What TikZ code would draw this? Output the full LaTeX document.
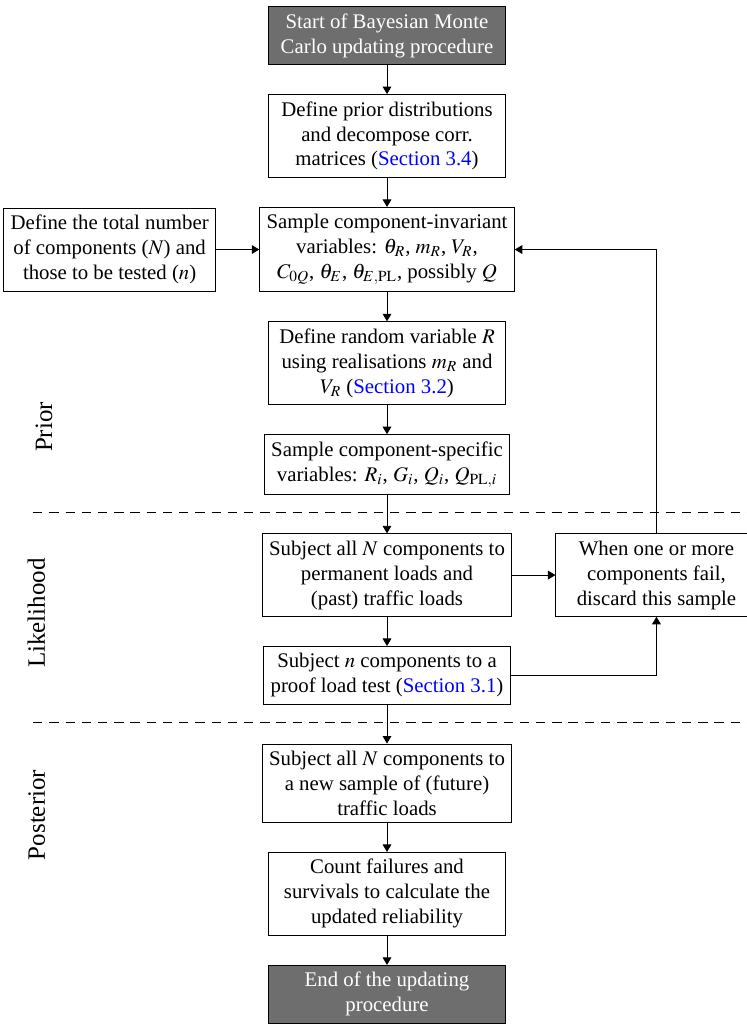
\documentclass[tikz,border=0pt]{standalone}
\usepackage{mathptmx}
\usepackage{fontspec}
\setmainfont{Liberation Serif}
\usetikzlibrary{positioning, arrows.meta, calc}

\begin{document}
\begin{tikzpicture}[
		node distance=0.493cm,
		side/.style={draw, align=center},
		box/.style={side, minimum width=4cm},
		term/.style={box, fill=termgrey, text=white},
		phase/.style={rotate=90, font=\large, anchor=base},
		phaseline/.style={dash pattern=on 4.5pt off 3.3pt},
		flow/.style={-{Triangle[length=3.6pt, width=4.2pt]}},
	]
		\definecolor{termgrey}{HTML}{6E6E6E}
		\definecolor{linkblue}{HTML}{0000FF}
		\clip (-6.540,0.600) rectangle (6.083,-16.704);

		\node[term] (start) at (0,0) {Start of Bayesian Monte\\Carlo updating procedure};
		\node[box, below=of start] (prior) {Define prior distributions\\and decompose corr.\\matrices (\textcolor{linkblue}{Section 3.4})};
		\node[box, below=of prior] (inv) {Sample component-invariant\\variables: $\theta_R$, $m_R$, $V_R$,\\$C_{0Q}$, $\theta_E$, $\theta_{E,\mathrm{PL}}$, possibly $Q$};
		\node[side, left=0.73cm of inv] (numb) {Define the total number\\of components ($N$) and\\those to be tested ($n$)};
		\node[box, below=of inv] (rvar) {Define random variable $R$\\using realisations $m_R$ and\\$V_R$ (\textcolor{linkblue}{Section 3.2})};
		\node[box, below=of rvar] (spec) {Sample component-specific\\variables: $R_i$, $G_i$, $Q_i$, $Q_{\mathrm{PL},i}$};
		\node[box, below=0.655cm of spec] (subj) {Subject all $N$ components to\\permanent loads and\\(past) traffic loads};
		\node[side, minimum width=3.4cm, right=0.73cm of subj] (disc) {When one or more\\components fail,\\discard this sample};
		\node[box, below=of subj] (test) {Subject $n$ components to a\\proof load test (\textcolor{linkblue}{Section 3.1})};
		\node[box, below=0.66cm of test] (fut) {Subject all $N$ components to\\a new sample of (future)\\traffic loads};
		\node[box, below=of fut] (count) {Count failures and\\survivals to calculate the\\updated reliability};
		\node[term, below=of count] (end) {End of the updating\\procedure};

		\coordinate (lft) at (-5.98,0);
		\coordinate (rgt) at (6.2,0);
		\coordinate (gap1) at ($(spec.south)!0.45!(subj.north)$);
		\coordinate (gap2) at ($(test.south)!0.45!(fut.north)$);
		\draw[phaseline] (gap1 -| lft) -- (gap1 -| rgt);
		\draw[phaseline] (gap2 -| lft) -- (gap2 -| rgt);

		\node[phase] (lprior) at (-5.66,-6.616) {Prior};
		\node[phase] (llike) at (-5.78,-9.759) {Likelihood};
		\node[phase] (lpost) at (-5.78,-13.172) {Posterior};

		\draw[flow] (start) -- (prior);
		\draw[flow] (prior) -- (inv);
		\draw[flow] (inv) -- (rvar);
		\draw[flow] (rvar) -- (spec);
		\draw[flow] (spec) -- (subj);
		\draw[flow] (subj) -- (test);
		\draw[flow] (test) -- (fut);
		\draw[flow] (fut) -- (count);
		\draw[flow] (count) -- (end);
		\draw[flow] (numb) -- (inv);
		\draw[flow] (subj) -- (disc);
		\draw[flow] (test.east) -| (disc.south);
		\draw[flow] (disc.north) |- (inv.east);
	\end{tikzpicture}
\end{document}
